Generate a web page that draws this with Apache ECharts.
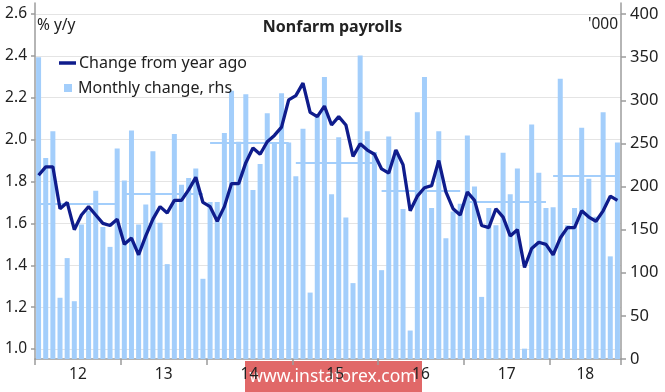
<!DOCTYPE html>
<html><head><meta charset="utf-8">
<script src="https://cdn.jsdelivr.net/npm/echarts@6/dist/echarts.min.js"></script>
<style>html,body{margin:0;padding:0;background:#fff}#c{width:665px;height:392px}</style>
</head><body><div id="c"></div>
<script>
const years = ['12','13','14','15','16','17','18'];
const monthNames = ['Jan','Feb','Mar','Apr','May','Jun','Jul','Aug','Sep','Oct','Nov','Dec'];
// Monthly change in nonfarm payrolls, '000 (rhs), Jan 2012 - Oct 2018
const monthlyChange = [
  350,233,264,71,117,67,156,172,195,153,130,244,
  207,265,156,179,241,158,110,261,202,210,221,93,
  182,182,262,311,252,307,196,226,285,250,308,251,
  212,267,77,282,327,191,257,164,88,352,264,240,
  103,258,242,174,33,286,327,175,264,140,171,180,
  259,200,72,175,155,239,191,221,12,272,216,175,
  176,325,155,175,268,209,165,286,119,251
];
// Change from year ago, % y/y (lhs)
const yoyChange = [
  1.83,1.87,1.87,1.67,1.70,1.57,1.64,1.68,1.64,1.60,1.59,1.62,
  1.50,1.53,1.45,1.54,1.62,1.68,1.65,1.71,1.71,1.76,1.82,1.70,
  1.68,1.61,1.68,1.79,1.79,1.89,1.96,1.93,1.99,2.02,2.06,2.19,
  2.21,2.27,2.13,2.11,2.16,2.07,2.11,2.07,1.92,1.98,1.95,1.93,
  1.86,1.84,1.95,1.88,1.66,1.73,1.77,1.78,1.90,1.75,1.67,1.64,
  1.75,1.71,1.59,1.58,1.67,1.63,1.54,1.57,1.39,1.48,1.51,1.50,
  1.45,1.53,1.58,1.58,1.66,1.63,1.61,1.66,1.73,1.71
];
// Annual average of monthly change, '000
const annualAverage = [180,192,251,227,195,182,212];

const categories = [];
for (let i = 0; i < monthlyChange.length; i++) {
  categories.push(monthNames[i % 12] + ' 20' + years[Math.floor(i / 12)]);
}
const labelAt = {6:'12',18:'13',30:'14',42:'15',54:'16',66:'17',77:'18'};

const avgLines = annualAverage.map((v, k) => {
  const s = k * 12, e = Math.min(k * 12 + 11, monthlyChange.length - 1);
  return [{coord: [s, v]}, {coord: [e, v]}];
});

const FONT = 'Noto Sans';
const AX = '#9c9c9c';
const BAR = '#a3cefb';
const LINE = '#0f1c8c';

const chart = echarts.init(document.getElementById('c'), null, {renderer: 'canvas'});
chart.setOption({
  animation: false,
  backgroundColor: '#fff',
  textStyle: {fontFamily: FONT},
  title: {
    text: 'Nonfarm payrolls', left: 'center', top: 14,
    textStyle: {fontFamily: FONT, fontSize: 16, fontWeight: 'bold', color: '#222'}
  },
  legend: [
    {
      data: [{name: 'Change from year ago', icon: 'rect'}],
      left: 59, top: 55, padding: 0, itemWidth: 17, itemHeight: 3.5, itemGap: 5,
      textStyle: {fontFamily: FONT, fontSize: 16, color: '#222', padding: [0,0,0,-2]}
    },
    {
      data: [{name: 'Monthly change, rhs', icon: 'rect'}],
      left: 64, top: 80, padding: 0, itemWidth: 8, itemHeight: 8,
      textStyle: {fontFamily: FONT, fontSize: 16, color: '#222', padding: [0,0,0,1]}
    }
  ],
  grid: [
    {left: 35, right: 44, top: 14, bottom: 43},
    {left: 35, right: 44, top: 14, bottom: 33},
    {left: 35, right: 44, top: 3, bottom: 33}
  ],
  xAxis: [
    {type: 'category', gridIndex: 0, data: categories, show: false, boundaryGap: true},
    {
      type: 'category', gridIndex: 1, data: categories, boundaryGap: true,
      axisLine: {show: true, lineStyle: {color: AX, width: 1.5}},
      axisTick: {show: true, length: 6, lineStyle: {color: AX, width: 1.5},
        interval: (i) => i % 12 === 0},
      axisLabel: {
        interval: (i) => labelAt[i] !== undefined,
        formatter: (v, i) => '{a|' + labelAt[i] + '}',
        margin: 8,
        rich: {a: {fontFamily: FONT, fontSize: 15.5, color: '#222', padding: [0, 7, 0, 0]}}
      },
      splitLine: {show: false}
    },
    {type: 'category', gridIndex: 2, data: categories, show: false}
  ],
  yAxis: [
    {
      type: 'value', gridIndex: 0, position: 'left', min: 1.0, max: 2.6, interval: 0.2,
      axisLine: {show: false},
      axisTick: {show: true, length: 4, lineStyle: {color: AX, width: 1.5}},
      axisLabel: {fontFamily: FONT, fontSize: 15.5, color: '#222', margin: 8,
        formatter: (v) => v.toFixed(1)},
      splitLine: {show: true, lineStyle: {color: '#e4e4e4', width: 1}}
    },
    {
      type: 'value', gridIndex: 1, position: 'right', min: 0, max: 400, interval: 50,
      axisLine: {show: false},
      axisTick: {show: true, length: 5, lineStyle: {color: AX, width: 1.5}},
      axisLabel: {fontFamily: FONT, fontSize: 16.5, color: '#222', margin: 9},
      splitLine: {show: false}
    },
    {
      type: 'value', gridIndex: 2, position: 'left', min: 0, max: 1,
      axisLine: {show: true, lineStyle: {color: AX, width: 1.5}},
      axisTick: {show: false}, axisLabel: {show: false}, splitLine: {show: false}
    },
    {
      type: 'value', gridIndex: 2, position: 'right', min: 0, max: 1,
      axisLine: {show: true, lineStyle: {color: AX, width: 1.5}},
      axisTick: {show: false}, axisLabel: {show: false}, splitLine: {show: false}
    }
  ],
  series: [
    {
      name: 'Monthly change, rhs', type: 'bar', xAxisIndex: 1, yAxisIndex: 1,
      data: monthlyChange, barCategoryGap: '30%',
      itemStyle: {color: BAR}, z: 2,
      markLine: {
        silent: true, symbol: 'none', label: {show: false},
        lineStyle: {color: BAR, width: 2, type: 'solid'},
        data: avgLines, z: 3
      }
    },
    {
      name: 'Change from year ago', type: 'line', xAxisIndex: 0, yAxisIndex: 0,
      data: yoyChange, symbol: 'none', smooth: false,
      lineStyle: {color: LINE, width: 3.3}, itemStyle: {color: LINE}, z: 5
    }
  ],
  graphic: [
    {type: 'text', left: 37, top: 18,
      style: {text: '% y/y', font: '15.5px "Noto Sans"', fill: '#222'}},
    {type: 'text', right: 47, top: 17,
      style: {text: "'000", font: '15.5px "Noto Sans"', fill: '#222'}},
    {type: 'group', left: 245, top: 361, children: [
      {type: 'rect', shape: {x: 0, y: 0, width: 177, height: 31},
        style: {fill: 'rgba(222,88,88,0.9)'}},
      {type: 'text', x: 88, y: 16,
        style: {text: 'www.instaforex.com', font: '17.5px "Noto Sans"', fill: '#fff',
          textAlign: 'center', textVerticalAlign: 'middle'}}
    ]}
  ]
});
</script></body></html>
